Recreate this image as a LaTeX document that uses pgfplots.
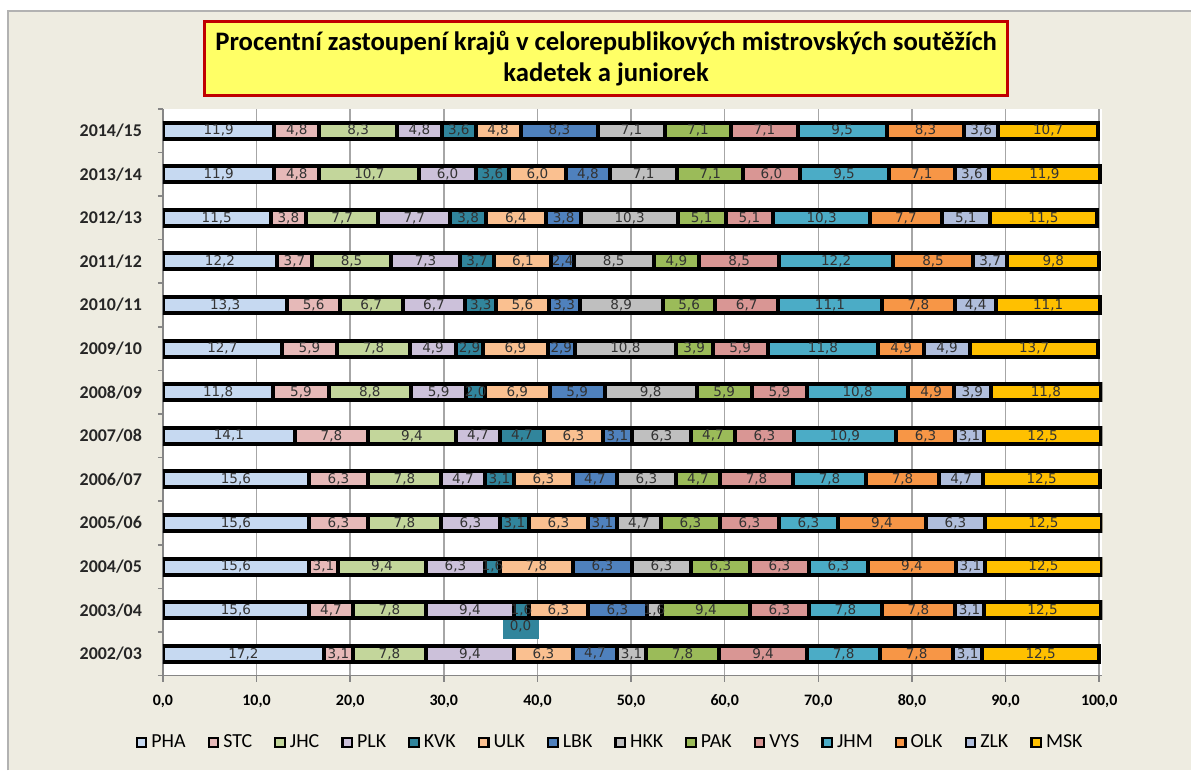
\documentclass[border=0pt]{standalone}
\usepackage{pgfplots}
\usepackage{pgfplotstable}
\pgfplotsset{compat=1.18}
\usepackage{fontspec}
\setmainfont{Carlito}
\newfontfamily\dejavu{DejaVu Sans}
\definecolor{bgc}{HTML}{EEECE1}
\definecolor{titlefill}{HTML}{FFFF66}
\definecolor{titlered}{HTML}{C00000}
\definecolor{axgray}{HTML}{868686}
\definecolor{gridgray}{HTML}{A6A6A6}
\definecolor{cPHA}{HTML}{C6D9F1}
\definecolor{cSTC}{HTML}{E6B9B8}
\definecolor{cJHC}{HTML}{C3D69B}
\definecolor{cPLK}{HTML}{CCC1DA}
\definecolor{cKVK}{HTML}{31859C}
\definecolor{cULK}{HTML}{FAC090}
\definecolor{cLBK}{HTML}{4F81BD}
\definecolor{cHKK}{HTML}{BFBFBF}
\definecolor{cPAK}{HTML}{9BBB59}
\definecolor{cVYS}{HTML}{D99694}
\definecolor{cJHM}{HTML}{4BACC6}
\definecolor{cOLK}{HTML}{F79646}
\definecolor{cZLK}{HTML}{B0BEDC}
\definecolor{cMSK}{HTML}{FFC000}

\pgfplotstableread{
idx PHA STC JHC PLK KVK ULK LBK HKK PAK VYS JHM OLK ZLK MSK
0 17.2 3.1 7.8 9.4 0.0 6.3 4.7 3.1 7.8 9.4 7.8 7.8 3.1 12.5
1 15.6 4.7 7.8 9.4 1.6 6.3 6.3 1.6 9.4 6.3 7.8 7.8 3.1 12.5
2 15.6 3.1 9.4 6.3 1.6 7.8 6.3 6.3 6.3 6.3 6.3 9.4 3.1 12.5
3 15.6 6.3 7.8 6.3 3.1 6.3 3.1 4.7 6.3 6.3 6.3 9.4 6.3 12.5
4 15.6 6.3 7.8 4.7 3.1 6.3 4.7 6.3 4.7 7.8 7.8 7.8 4.7 12.5
5 14.1 7.8 9.4 4.7 4.7 6.3 3.1 6.3 4.7 6.3 10.9 6.3 3.1 12.5
6 11.8 5.9 8.8 5.9 2.0 6.9 5.9 9.8 5.9 5.9 10.8 4.9 3.9 11.8
7 12.7 5.9 7.8 4.9 2.9 6.9 2.9 10.8 3.9 5.9 11.8 4.9 4.9 13.7
8 13.3 5.6 6.7 6.7 3.3 5.6 3.3 8.9 5.6 6.7 11.1 7.8 4.4 11.1
9 12.2 3.7 8.5 7.3 3.7 6.1 2.4 8.5 4.9 8.5 12.2 8.5 3.7 9.8
10 11.5 3.8 7.7 7.7 3.8 6.4 3.8 10.3 5.1 5.1 10.3 7.7 5.1 11.5
11 11.9 4.8 10.7 6.0 3.6 6.0 4.8 7.1 7.1 6.0 9.5 7.1 3.6 11.9
12 11.9 4.8 8.3 4.8 3.6 4.8 8.3 7.1 7.1 7.1 9.5 8.3 3.6 10.7
}\regiondata

\pgfplotsset{
  seg/.style={fill=c#1, draw=black, line width=2bp},
}

\begin{document}
\begin{tikzpicture}[x=1bp,y=1bp]
\fill[white] (0,0) rectangle (596,385.5);
\fill[bgc] (4,0) rectangle (596,380);
\draw[gray!60, line width=0.8bp] (4,0) -- (4,380) -- (596,380);
\useasboundingbox (0,0) rectangle (596,385.5);
\node[draw=titlered, line width=1.6bp, fill=titlefill, minimum width=402bp,
      minimum height=37bp, align=center, inner sep=0pt,
      font=\bfseries\fontsize{13.4}{15.5}\selectfont] at (303.25,356.25)
  {Procentní zastoupení krajů v celorepublikových mistrovských soutěžích\\kadetek a juniorek};
\begin{axis}[
  at={(81.5bp,47.5bp)}, anchor=south west,
  scale only axis, width=470.1bp, height=283.5bp,
  xbar stacked, bar width=8bp,
  xmin=0, xmax=100.35, ymin=-0.5, ymax=12.5,
  axis background/.style={fill=white},
  axis x line=bottom, axis y line=left,
  axis line style={-, draw=axgray, line width=0.8bp},
  xtick={0,10,...,100},
  xticklabel={\pgfmathprintnumber[fixed,fixed zerofill,precision=1,use comma,assume math mode=true]{\tick}},
  xticklabel style={font=\bfseries\fontsize{8}{9}\selectfont, text=black, yshift=-3bp},
  ytick={0,...,12},
  yticklabels={2002/03,2003/04,2004/05,2005/06,2006/07,2007/08,2008/09,2009/10,2010/11,2011/12,2012/13,2013/14,2014/15},
  yticklabel style={font=\bfseries\fontsize{9}{10}\selectfont, text=black!85, xshift=-4bp},
  minor ytick={-0.5,0.5,...,12.5},
  tick align=outside,
  major tick length=3bp, minor tick length=2.5bp,
  tick style={draw=axgray, line width=0.8bp},
  every major y tick/.append style={draw=none},
  xmajorgrids,
  major x grid style={draw=gridgray, line width=0.8bp},
  point meta=explicit,
  nodes near coords={\pgfmathfloatifflags{\pgfplotspointmeta}{0}{}{\pgfmathprintnumber[fixed,fixed zerofill,precision=1,use comma,assume math mode=true]{\pgfplotspointmeta}}},
  every node near coord/.append style={font=\dejavu\fontsize{6.8}{7}\selectfont, text=black!80, anchor=center, inner sep=0pt},
  every axis plot post/.append style={legend image code/.code={\draw[##1, draw=black, line width=1.1bp] (0bp,-2.4bp) rectangle (4.8bp,2.4bp);}},
  legend columns=14,
  legend style={at={(0.477,-0.118)}, anchor=center, draw=none, fill=none,
    font=\fontsize{10}{12}\selectfont, inner sep=0pt,
    /tikz/every even column/.append style={column sep=9bp}},
]
\addplot[seg=PHA] table[x=PHA,y=idx,meta=PHA] {\regiondata};
\addplot[seg=STC] table[x=STC,y=idx,meta=STC] {\regiondata};
\addplot[seg=JHC] table[x=JHC,y=idx,meta=JHC] {\regiondata};
\addplot[seg=PLK] table[x=PLK,y=idx,meta=PLK] {\regiondata};
\addplot[seg=KVK] table[x=KVK,y=idx,meta=KVK] {\regiondata};
\addplot[seg=ULK] table[x=ULK,y=idx,meta=ULK] {\regiondata};
\addplot[seg=LBK] table[x=LBK,y=idx,meta=LBK] {\regiondata};
\addplot[seg=HKK] table[x=HKK,y=idx,meta=HKK] {\regiondata};
\addplot[seg=PAK] table[x=PAK,y=idx,meta=PAK] {\regiondata};
\addplot[seg=VYS] table[x=VYS,y=idx,meta=VYS] {\regiondata};
\addplot[seg=JHM] table[x=JHM,y=idx,meta=JHM] {\regiondata};
\addplot[seg=OLK] table[x=OLK,y=idx,meta=OLK] {\regiondata};
\addplot[seg=ZLK] table[x=ZLK,y=idx,meta=ZLK] {\regiondata};
\addplot[seg=MSK] table[x=MSK,y=idx,meta=MSK] {\regiondata};
\legend{PHA,STC,JHC,PLK,KVK,ULK,LBK,HKK,PAK,VYS,JHM,OLK,ZLK,MSK}
\node[fill=cKVK, minimum width=18bp, minimum height=13bp, inner sep=0pt,
      font=\dejavu\fontsize{6.8}{7}\selectfont, text=black!80] at (axis cs:38.2,0.64) {0,0};
\end{axis}
\end{tikzpicture}
\end{document}
